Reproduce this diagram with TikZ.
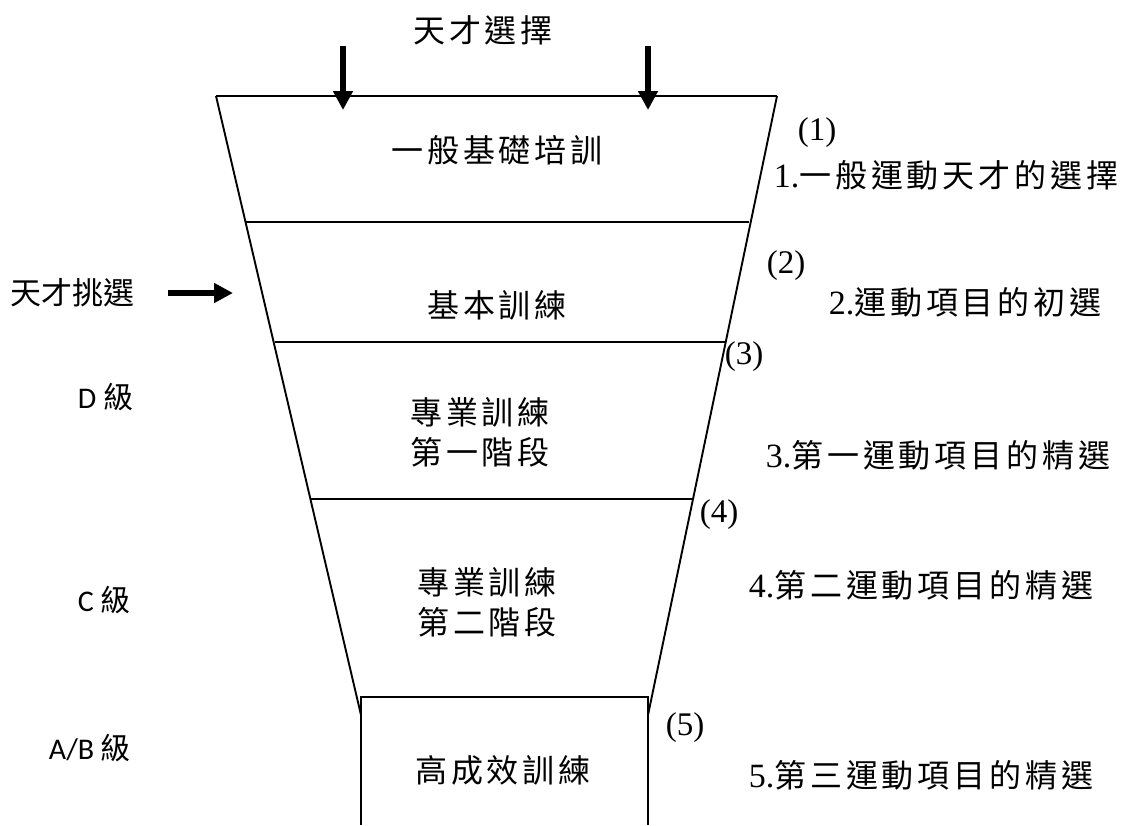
\documentclass[tikz,border=0pt]{standalone}
\usepackage{fontspec}
\setmainfont{Liberation Serif}
\newfontfamily\kai[LetterSpace=12]{Noto Sans CJK TC}
\newfontfamily\cjk{Noto Sans CJK TC}
\newfontfamily\carl{Carlito}
\usetikzlibrary{arrows.meta}
\begin{document}
\begin{tikzpicture}[x=1pt,y=-1pt,line width=1.9pt,
  lbl/.style={inner sep=0pt,font=\kai\fontsize{32}{40}\selectfont,align=center},
  num/.style={inner sep=0pt,anchor=west,font=\fontsize{33}{33}\selectfont},
  sel/.style={inner sep=0pt,anchor=west,font=\fontsize{34}{34}\selectfont},
  side/.style={inner sep=0pt,anchor=west,font=\carl\fontsize{30}{30}\selectfont},
  bigarrow/.style={line width=5.5pt,-{Triangle[length=19pt,width=19pt]}}]
\useasboundingbox (0,0) rectangle (1138,825);
% funnel outline
\coordinate (TL) at (216,96);
\coordinate (TR) at (777,96);
\coordinate (BL) at (361,715);
\coordinate (BR) at (648,715);
\coordinate (BoxTL) at (361,697);
\coordinate (BoxTR) at (648,697);
\coordinate (BoxBL) at (361,825);
\coordinate (BoxBR) at (648,825);
\draw (TL) -- (TR);
\draw (TL) -- (BL);
\draw (TR) -- (BR);
\draw (BoxBL) -- (BoxTL) -- (BoxTR) -- (BoxBR);
% dividing lines
\coordinate (L1a) at (246,222); \coordinate (L1b) at (749,222);
\coordinate (L2a) at (275,342); \coordinate (L2b) at (725,342);
\coordinate (L3a) at (311,499); \coordinate (L3b) at (693,499);
\draw (L1a) -- (L1b);
\draw (L2a) -- (L2b);
\draw (L3a) -- (L3b);
% top label and arrows
\node[lbl] (top) at (483,30) {天才選擇};
\coordinate (A1s) at (343,46); \coordinate (A1e) at (343,110);
\coordinate (A2s) at (648,46); \coordinate (A2e) at (648,110);
\draw[bigarrow] (A1s) -- (A1e);
\draw[bigarrow] (A2s) -- (A2e);
% stage labels
\node[lbl] (s1) at (497,150) {一般基礎培訓};
\node[lbl] (s2) at (497,305) {基本訓練};
\node[lbl] (s3) at (480,432) {專業訓練\\第一階段};
\node[lbl] (s4) at (487,602) {專業訓練\\第二階段};
\node[lbl] (s5) at (503,770) {高成效訓練};
% left side
\node[inner sep=0pt,anchor=west,font=\cjk\fontsize{31}{31}\selectfont] (pick) at (10,293) {天才挑選};
\coordinate (ps) at (168,293);
\coordinate (pe) at (233,293);
\draw[bigarrow] (ps) -- (pe);
\node[side] (D) at (77,397) {D {\cjk 級}};
\node[side] (C) at (77,600) {C {\cjk 級}};
\node[side] (AB) at (48,748) {A/B {\cjk 級}};
% right side numbers
\node[num] (n1) at (797,133) {(1)};
\node[num] (n2) at (766,266) {(2)};
\node[num] (n3) at (724,357) {(3)};
\node[num] (n4) at (699,515) {(4)};
\node[num] (n5) at (665,728) {(5)};
\node[sel] (r1) at (773,175) {1.{\kai\fontsize{32}{32}\selectfont 一般運動天才的選擇}};
\node[sel] (r2) at (828,302) {2.{\kai\fontsize{32}{32}\selectfont 運動項目的初選}};
\node[sel] (r3) at (765,455) {3.{\kai\fontsize{32}{32}\selectfont 第一運動項目的精選}};
\node[sel] (r4) at (748,585) {4.{\kai\fontsize{32}{32}\selectfont 第二運動項目的精選}};
\node[sel] (r5) at (748,775) {5.{\kai\fontsize{32}{32}\selectfont 第三運動項目的精選}};
\end{tikzpicture}
\end{document}
